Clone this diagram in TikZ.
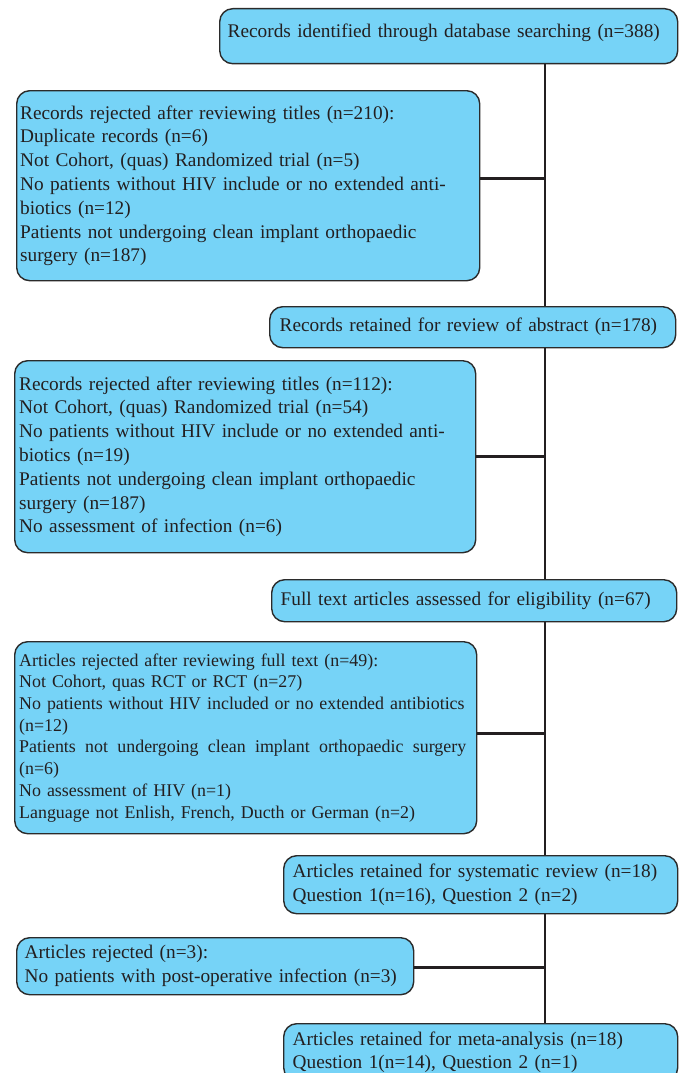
\documentclass[tikz,border=0pt]{standalone}
\usepackage{fontspec}
\setmainfont{Liberation Serif}
\definecolor{boxfill}{HTML}{76D3F7}
\definecolor{ink}{HTML}{231F20}
\definecolor{edge}{HTML}{2B2B2B}
\begin{document}
\begin{tikzpicture}[x=1pt,y=-1pt,
  box/.style={draw=edge, line width=1.4pt, fill=boxfill, rounded corners=13pt,
    anchor=north west, text=ink, align=left, inner ysep=0pt,
    font=\fontsize{19.3}{23.8}\selectfont},
  small/.style={font=\fontsize{17.9}{21.7}\selectfont},
  conn/.style={draw=ink, line width=2.8pt}]
\useasboundingbox (0,0) rectangle (683,1073);
\coordinate (spine) at (545,0);
\node[box, inner xsep=8pt, text width=442pt, minimum height=55pt, text depth=11pt] (b1) at (219,8)
  {Records identified through database searching (n=388)};
\node[box, inner xsep=3.5pt, text width=456pt, minimum height=190pt] (b2) at (16,90)
  {Records rejected after reviewing titles (n=210):\\
   Duplicate records (n=6)\\
   Not Cohort, (quas) Randomized trial (n=5)\\
   No patients without HIV include or no extended anti-\\
   biotics (n=12)\\
   Patients not undergoing clean implant orthopaedic\\
   surgery (n=187)};
\node[box, inner xsep=10pt, text width=386pt, minimum height=41pt] (b3) at (269,306)
  {Records retained for review of abstract (n=178)};
\node[box, inner xsep=4.5pt, text width=452pt, minimum height=192pt] (b4) at (14,360)
  {Records rejected after reviewing titles (n=112):\\
   Not Cohort, (quas) Randomized trial (n=54)\\
   No patients without HIV include or no extended anti-\\
   biotics (n=19)\\
   Patients not undergoing clean implant orthopaedic\\
   surgery (n=187)\\
   No assessment of infection (n=6)};
\node[box, inner xsep=9pt, text width=387pt, minimum height=42pt] (b5) at (271,579)
  {Full text articles assessed for eligibility (n=67)};
\node[box, small, inner xsep=4.5pt, text width=453pt, minimum height=192pt] (b6) at (14,641)
  {Articles rejected after reviewing full text (n=49):\\
   Not Cohort, quas RCT or RCT (n=27)\\
   No patients without HIV included or no extended antibiotics\\
   (n=12)\\
   \leavevmode\hbox to 447pt{Patients\hfill not\hfill undergoing\hfill clean\hfill implant\hfill orthopaedic\hfill surgery}\\
   (n=6)\\
   No assessment of HIV (n=1)\\
   Language not Enlish, French, Ducth or German (n=2)};
\node[box, inner xsep=9pt, text width=376pt, minimum height=58pt] (b7) at (283,855)
  {Articles retained for systematic review (n=18)\\
   Question 1(n=16), Question 2 (n=2)};
\node[box, inner xsep=8pt, text width=381pt, minimum height=57pt] (b8) at (16,937)
  {Articles rejected (n=3):\\
   No patients with post-operative infection (n=3)};
\node[box, inner xsep=9pt, text width=376pt, minimum height=57pt] (b9) at (283,1023)
  {Articles retained for meta-analysis (n=18)\\
   Question 1(n=14), Question 2 (n=1)};
\draw[conn] (b1.south -| spine) -- (b3.north -| spine);
\draw[conn] (b3.south -| spine) -- (b5.north -| spine);
\draw[conn] (b5.south -| spine) -- (b7.north -| spine);
\draw[conn] (b7.south -| spine) -- (b9.north -| spine);
\draw[conn] ([yshift=7pt]b2.east) -- ([yshift=7pt]b2.east -| spine);
\draw[conn] (b4.east) -- (b4.east -| spine);
\draw[conn] ([yshift=4pt]b6.east) -- ([yshift=4pt]b6.east -| spine);
\draw[conn] ([yshift=-1.5pt]b8.east) -- ([yshift=-1.5pt]b8.east -| spine);
\end{tikzpicture}
\end{document}
